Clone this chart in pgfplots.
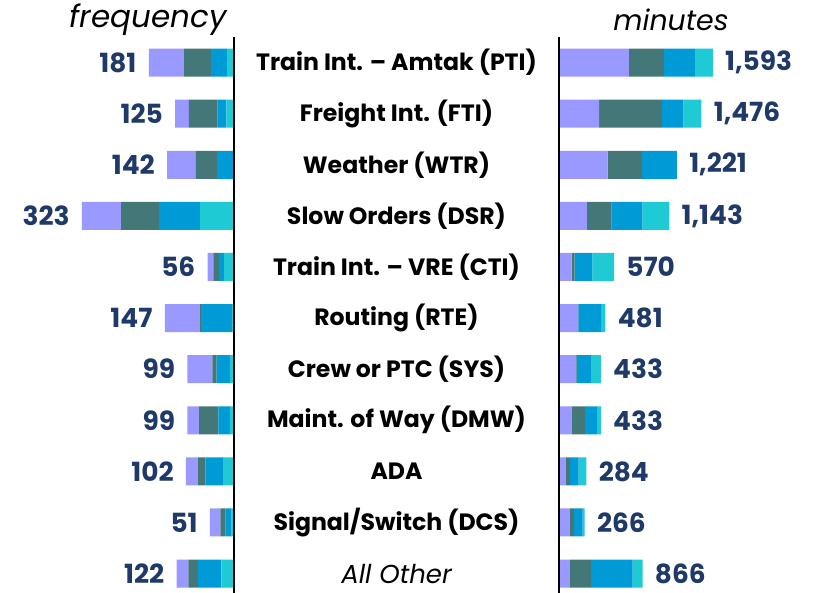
\documentclass[border=0pt]{standalone}
\usepackage{pgfplots}
\pgfplotsset{compat=1.18}
\usepackage{pgfplotstable}
\usepackage{fontspec}
\setmainfont{Poppins}
\definecolor{cLav}{HTML}{9999FF}
\definecolor{cTeal}{HTML}{447878}
\definecolor{cBlue}{HTML}{009BD6}
\definecolor{cCyan}{HTML}{1ECAD3}
\definecolor{cNavy}{HTML}{1F3A68}

\pgfplotstableread{
idx lav teal blue cyan tot
0 75 57 34 15 181
1 29 61 19 16 125
2 61 45 36 0 142
3 83 81 87 72 323
4 12 12 11 21 56
5 75 2 66 4 147
6 53 9 28 9 99
7 25 41 24 9 99
8 26 15 38 23 102
9 22 11 13 5 51
10 25 21 49 27 122
}\freq

\pgfplotstableread{
idx lav teal blue cyan tot
0 724 362 321 186 1593
1 416 651 222 187 1476
2 503 359 359 0 1221
3 289 257 319 278 1143
4 132 31 183 224 570
5 198 3 240 40 481
6 175 7 148 103 433
7 134 134 124 41 433
8 71 41 91 81 284
9 113 41 92 20 266
10 113 217 433 103 866
}\mins

\pgfplotstableread[col sep=comma]{
pos,idx,name
0.5,0,Train Int. – Amtak (PTI)
0.5,1,Freight Int. (FTI)
0.5,2,Weather (WTR)
0.5,3,Slow Orders (DSR)
0.5,4,Train Int. – VRE (CTI)
0.5,5,Routing (RTE)
0.5,6,Crew or PTC (SYS)
0.5,7,Maint. of Way (DMW)
0.5,8,ADA
0.5,9,Signal/Switch (DCS)
}\cats

\pgfplotsset{
  base/.style={scale only axis, height=278pt, ymin=-0.5, ymax=10.38, y dir=reverse,
    axis lines=none, major tick length=0pt, xtick=\empty, ytick=\empty,
    clip=false, anchor=south west},
  bars/.style={base, xbar stacked, bar width=14pt},
  lbl/.style={base, /pgf/number format/assume math mode=true,
    /pgf/number format/1000 sep={,},
    every node near coord/.append style={inner sep=0pt, text=cNavy,
      font=\bfseries\fontsize{13.2}{15}\selectfont}},
}

\begin{document}
\begin{tikzpicture}
\path[use as bounding box] (0pt,0pt) rectangle (408pt,296.5pt);

% ---------- left: frequency ----------
\begin{axis}[bars, at={(37pt,0pt)}, width=80pt, xmin=0, xmax=340, x dir=reverse]
\addplot[fill=cCyan, draw=none] table[x=cyan, y=idx] {\freq};
\addplot[fill=cBlue, draw=none] table[x=blue, y=idx] {\freq};
\addplot[fill=cTeal, draw=none] table[x=teal, y=idx] {\freq};
\addplot[fill=cLav, draw=none] table[x=lav, y=idx] {\freq};
\end{axis}
\begin{axis}[lbl, at={(37pt,0pt)}, width=80pt, xmin=0, xmax=340, x dir=reverse,
  every node near coord/.append style={anchor=east, xshift=-6pt}]
\addplot[draw=none, mark=none, nodes near coords, point meta=x] table[x=tot, y=idx] {\freq};
\end{axis}

% ---------- right: minutes ----------
\begin{axis}[bars, at={(279.5pt,0pt)}, width=111pt, xmin=0, xmax=2300]
\addplot[fill=cLav, draw=none] table[x=lav, y=idx] {\mins};
\addplot[fill=cTeal, draw=none] table[x=teal, y=idx] {\mins};
\addplot[fill=cBlue, draw=none] table[x=blue, y=idx] {\mins};
\addplot[fill=cCyan, draw=none] table[x=cyan, y=idx] {\mins};
\end{axis}
\begin{axis}[lbl, at={(279.5pt,0pt)}, width=111pt, xmin=0, xmax=2300,
  every node near coord/.append style={anchor=west, xshift=6pt}]
\addplot[draw=none, mark=none, nodes near coords, point meta=x] table[x=tot, y=idx] {\mins};
\end{axis}

% ---------- category names ----------
\begin{axis}[base, at={(117pt,0pt)}, width=162.5pt, xmin=0, xmax=1,
  every node near coord/.append style={anchor=center, inner sep=0pt, text=black}]
\addplot[draw=none, mark=none, nodes near coords, point meta=explicit symbolic,
  every node near coord/.append style={font=\bfseries\fontsize{11.8}{14}\selectfont}]
  table[x=pos, y=idx, meta=name] {\cats};
\addplot[draw=none, mark=none, nodes near coords, point meta=explicit symbolic,
  every node near coord/.append style={font=\itshape\fontsize{13}{15}\selectfont}]
  coordinates {(0.5,10) [All Other]};
\end{axis}

% vertical separator lines
\draw[line width=1pt, black] (117pt,0pt) -- (117pt,278pt);
\draw[line width=0.8pt, black] (279.5pt,0pt) -- (279.5pt,278pt);

% titles
\node[anchor=base, inner sep=0pt, font=\itshape\fontsize{15.5}{17}\selectfont] at (74pt,282.5pt) {frequency};
\node[anchor=base, inner sep=0pt, font=\itshape\fontsize{14.2}{16}\selectfont] at (335.5pt,281pt) {minutes};
\end{tikzpicture}
\end{document}
